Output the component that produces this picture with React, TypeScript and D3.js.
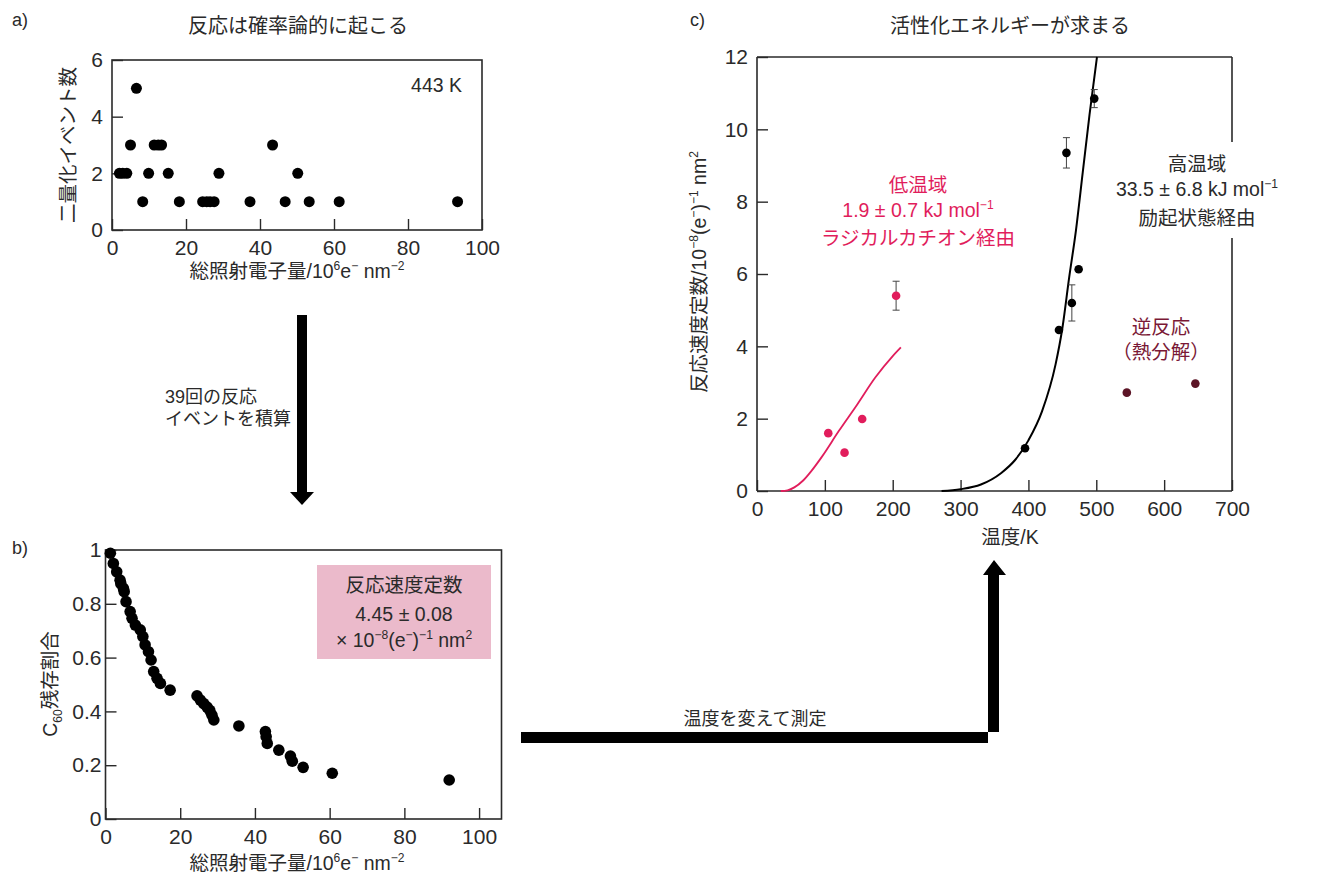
import React, { useRef, useEffect } from 'react';
import * as d3 from 'd3';

// a) dimerization events vs total electron dose (443 K)
const doseA = [6.6, 5.0, 11.4, 12.5, 13.4, 43.4, 2.0, 2.9, 4.0, 9.9, 15.2, 28.9, 50.2,
  8.3, 18.2, 24.5, 25.6, 26.5, 27.6, 37.3, 46.8, 53.3, 61.4, 93.4];
const eventsA = [5, 3, 3, 3, 3, 3, 2, 2, 2, 2, 2, 2, 2,
  1, 1, 1, 1, 1, 1, 1, 1, 1, 1, 1];

// b) remaining C60 fraction
const doseB = [1.3, 2.1, 3.0, 3.9, 4.1, 4.8, 5.0, 5.5, 6.6, 7.1, 8.0, 9.3, 10.0, 10.6,
  11.5, 12.2, 12.9, 13.8, 14.7, 17.3, 24.5, 25.4, 26.3, 27.2, 27.9, 28.5, 29.0,
  35.7, 42.8, 43.0, 43.3, 46.4, 49.5, 50.0, 52.9, 60.7, 92.0];
const fracB = [0.988, 0.95, 0.919, 0.888, 0.875, 0.857, 0.845, 0.808, 0.771, 0.746, 0.721,
  0.703, 0.678, 0.647, 0.622, 0.591, 0.548, 0.523, 0.504, 0.479, 0.458, 0.442, 0.429,
  0.416, 0.404, 0.386, 0.368, 0.346, 0.325, 0.306, 0.281, 0.256, 0.234, 0.215, 0.192,
  0.170, 0.145];

// c) rate constant vs temperature
const lowT = [105, 129, 155, 205];
const lowK = [1.60, 1.06, 1.99, 5.4];
const lowErr = [0, 0, 0, 0.4];
const highT = [395, 445, 456, 464, 474, 497];
const highK = [1.18, 4.45, 9.35, 5.2, 6.13, 10.85];
const highErr = [0, 0, 0.42, 0.5, 0, 0.25];
const revT = [545, 646];
const revK = [2.72, 2.97];
const lowFitT = [35, 45, 55, 68, 80, 95, 121, 148, 174, 200, 212];
const lowFitK = [0, 0.02, 0.1, 0.29, 0.55, 0.93, 1.67, 2.40, 3.13, 3.73, 3.97];
const highFitT = [272, 300, 330, 360, 380, 400, 420, 440, 450, 460, 470, 480, 490, 501];
const highFitK = [0, 0.05, 0.18, 0.5, 0.85, 1.4, 2.2, 3.5, 4.5, 5.9, 7.2, 8.8, 10.4, 12];

const ticksA = [0, 20, 40, 60, 80, 100];
const ticksAy = [0, 2, 4, 6];
const ticksBy = [0, 0.2, 0.4, 0.6, 0.8, 1];
const ticksCx = [0, 100, 200, 300, 400, 500, 600, 700];
const ticksCy = [0, 2, 4, 6, 8, 10, 12];

const FONT = "'Liberation Sans', 'Noto Sans CJK JP', sans-serif";
const INK = '#2a2a2a';
const RED = '#e11d5c';
const MAROON = '#5c1426';
const FS = 19.5;

type Part = [string, number?];

function rich(sel: any, parts: Part[]) {
  let shift = 0;
  parts.forEach(([t, s]) => {
    const want = s === 1 ? -8 : s === -1 ? 5 : 0;
    const ts = sel.append('tspan').text(t).attr('dy', want - shift);
    if (s) ts.attr('font-size', '0.62em');
    shift = want;
  });
}

const App = () => {
  const ref = useRef(null);

  useEffect(() => {
    const svg = d3.select(ref.current);
    svg.selectAll('*').remove();
    svg.attr('font-family', FONT).attr('fill', INK);

    const txt = (x: number, y: number, s: string, size = FS, anchor = 'middle', color = INK) =>
      svg.append('text').attr('x', x).attr('y', y).attr('font-size', size)
        .attr('text-anchor', anchor).attr('dominant-baseline', 'central').attr('fill', color).text(s);

    const axes = (g: any, x: any, y: any, xt: number[], yt: number[], yfmt: (d: any) => string, ypad: number) => {
      const [x0] = x.range();
      const [y0] = y.range();
      const ax = g.append('g').attr('transform', `translate(0,${y0})`)
        .call(d3.axisBottom(x).tickValues(xt).tickSize(-11).tickSizeOuter(0).tickPadding(10));
      const ay = g.append('g').attr('transform', `translate(${x0},0)`)
        .call(d3.axisLeft(y).tickValues(yt).tickSize(-11).tickSizeOuter(0).tickPadding(ypad).tickFormat(yfmt));
      [ax, ay].forEach(a => {
        a.attr('font-size', 21).attr('font-family', FONT);
        a.select('.domain').remove();
        a.selectAll('text').attr('font-size', 21).attr('fill', INK);
        a.selectAll('line').attr('stroke', INK).attr('stroke-width', 1.4);
      });
    };

    // ---------- a) ----------
    const xa = d3.scaleLinear().domain([0, 100]).range([112, 482]);
    const ya = d3.scaleLinear().domain([0, 6]).range([230, 60]);
    const ga = svg.append('g');
    axes(ga, xa, ya, ticksA, ticksAy, d3.format('d'), 9);
    ga.append('rect').attr('x', 112).attr('y', 60).attr('width', 370).attr('height', 170)
      .attr('fill', 'none').attr('stroke', INK).attr('stroke-width', 1.6);
    ga.selectAll('circle').data(doseA).enter().append('circle')
      .attr('cx', d => xa(d)).attr('cy', (d, i) => ya(eventsA[i])).attr('r', 5.5).attr('fill', '#000');
    txt(12, 20, 'a)', 18, 'start');
    txt(298, 26, '反応は確率論的に起こる', 20);
    txt(462, 85, '443 K', FS, 'end');
    txt(68, 145, '二量化イベント数', FS).attr('transform', 'rotate(-90,68,145)');
    rich(svg.append('text').attr('x', 297).attr('y', 278).attr('font-size', FS).attr('text-anchor', 'middle'),
      [['総照射電子量/10'], ['6', 1], ['e'], ['−', 1], [' nm'], ['−2', 1]]);

    // ---------- arrow a -> b ----------
    svg.append('rect').attr('x', 297).attr('y', 315).attr('width', 10).attr('height', 178).attr('fill', '#000');
    svg.append('path').attr('d', 'M290,492 L314,492 L302,505 Z').attr('fill', '#000');
    txt(165, 397, '39回の反応', 18, 'start');
    txt(165, 419, 'イベントを積算', 18, 'start');

    // ---------- b) ----------
    const xb = d3.scaleLinear().domain([0, 106]).range([105.5, 501.5]);
    const yb = d3.scaleLinear().domain([0, 1]).range([819, 550]);
    const gb = svg.append('g');
    axes(gb, xb, yb, ticksA, ticksBy, d => (d === 0 || d === 1 ? String(d) : d3.format('.1f')(d)), 4);
    gb.append('rect').attr('x', 105.5).attr('y', 550).attr('width', 396).attr('height', 269)
      .attr('fill', 'none').attr('stroke', INK).attr('stroke-width', 1.6);
    gb.append('rect').attr('x', 317).attr('y', 565).attr('width', 174).attr('height', 94).attr('fill', '#ebbacb');
    gb.selectAll('circle').data(doseB).enter().append('circle')
      .attr('cx', d => xb(d)).attr('cy', (d, i) => yb(fracB[i])).attr('r', 5.8).attr('fill', '#000');
    txt(404, 585, '反応速度定数', FS);
    txt(404, 614, '4.45 ± 0.08', FS);
    rich(svg.append('text').attr('x', 404).attr('y', 647).attr('font-size', FS).attr('text-anchor', 'middle'),
      [['× 10'], ['−8', 1], ['(e'], ['−', 1], [')'], ['−1', 1], [' nm'], ['2', 1]]);
    txt(12, 548, 'b)', 18, 'start');
    rich(svg.append('text').attr('x', 297).attr('y', 870).attr('font-size', FS).attr('text-anchor', 'middle'),
      [['総照射電子量/10'], ['6', 1], ['e'], ['−', 1], [' nm'], ['−2', 1]]);
    rich(svg.append('text').attr('x', 0).attr('y', 0).attr('font-size', FS).attr('text-anchor', 'middle')
      .attr('transform', 'translate(57,684) rotate(-90)'),
      [['C'], ['60', -1], ['残存割合']]);

    // ---------- arrow b -> c ----------
    svg.append('path').attr('d', 'M521,732 L999,732 L999,575 L1006,575 L994,560 L983,575 L988,575 L988,743 L521,743 Z')
      .attr('fill', '#000');
    txt(755, 719, '温度を変えて測定', 18);

    // ---------- c) ----------
    const xc = d3.scaleLinear().domain([0, 700]).range([757, 1232]);
    const yc = d3.scaleLinear().domain([0, 12]).range([491, 57]);
    const gc = svg.append('g');
    axes(gc, xc, yc, ticksCx, ticksCy, d3.format('d'), 9);
    const fr = [[757, 57, 1232, 57], [757, 57, 757, 491], [757, 491, 1232, 491],
      [1232, 57, 1232, 142], [1232, 238, 1232, 491]];
    fr.forEach(([a, b, c, d]) => gc.append('line').attr('x1', a).attr('y1', b).attr('x2', c).attr('y2', d)
      .attr('stroke', INK).attr('stroke-width', 1.6));

    const line = d3.line<number>().curve(d3.curveMonotoneX);
    gc.append('path').attr('fill', 'none').attr('stroke', RED).attr('stroke-width', 1.8)
      .attr('d', line.x(d => xc(d)).y((d, i) => yc(lowFitK[i]))(lowFitT));
    gc.append('path').attr('fill', 'none').attr('stroke', '#000').attr('stroke-width', 2)
      .attr('d', line.x(d => xc(d)).y((d, i) => yc(highFitK[i]))(highFitT));

    const errs = (T: number[], K: number[], E: number[]) => T.forEach((t, i) => {
      if (!E[i]) return;
      const x = xc(t);
      gc.append('line').attr('x1', x).attr('x2', x).attr('y1', yc(K[i] - E[i])).attr('y2', yc(K[i] + E[i]))
        .attr('stroke', '#444').attr('stroke-width', 1);
      [K[i] - E[i], K[i] + E[i]].forEach(v => gc.append('line').attr('x1', x - 3.5).attr('x2', x + 3.5)
        .attr('y1', yc(v)).attr('y2', yc(v)).attr('stroke', '#444').attr('stroke-width', 1));
    });
    errs(lowT, lowK, lowErr);
    errs(highT, highK, highErr);

    const dots = (T: number[], K: number[], col: string) => T.forEach((t, i) =>
      gc.append('circle').attr('cx', xc(t)).attr('cy', yc(K[i])).attr('r', 4.3).attr('fill', col));
    dots(lowT, lowK, RED);
    dots(highT, highK, '#000');
    dots(revT, revK, MAROON);

    txt(690, 20, 'c)', 18, 'start');
    txt(1010, 26, '活性化エネルギーが求まる', 20);
    txt(1010, 537, '温度/K', FS);
    rich(svg.append('text').attr('x', 0).attr('y', 0).attr('font-size', FS).attr('text-anchor', 'middle')
      .attr('transform', 'translate(706,272) rotate(-90)'),
      [['反応速度定数/10'], ['−8', 1], ['(e'], ['−', 1], [')'], ['−1', 1], [' nm'], ['2', 1]]);

    txt(918, 185, '低温域', FS, 'middle', RED);
    rich(svg.append('text').attr('x', 918).attr('y', 217).attr('font-size', FS).attr('text-anchor', 'middle').attr('fill', RED),
      [['1.9 ± 0.7 kJ mol'], ['−1', 1]]);
    txt(918, 238, 'ラジカルカチオン経由', FS, 'middle', RED);

    txt(1197, 164, '高温域', FS);
    rich(svg.append('text').attr('x', 1197).attr('y', 196).attr('font-size', FS).attr('text-anchor', 'middle'),
      [['33.5 ± 6.8 kJ mol'], ['−1', 1]]);
    txt(1197, 218, '励起状態経由', FS);

    txt(1161, 327, '逆反応', FS, 'middle', '#7a1836');
    txt(1161, 352, '（熱分解）', FS, 'middle', '#7a1836');
  }, []);

  return (
    <svg ref={ref} width={1320} height={875}
      style={{ position: 'absolute', left: 0, top: 0, background: '#fff' }} />
  );
};

export default App;
